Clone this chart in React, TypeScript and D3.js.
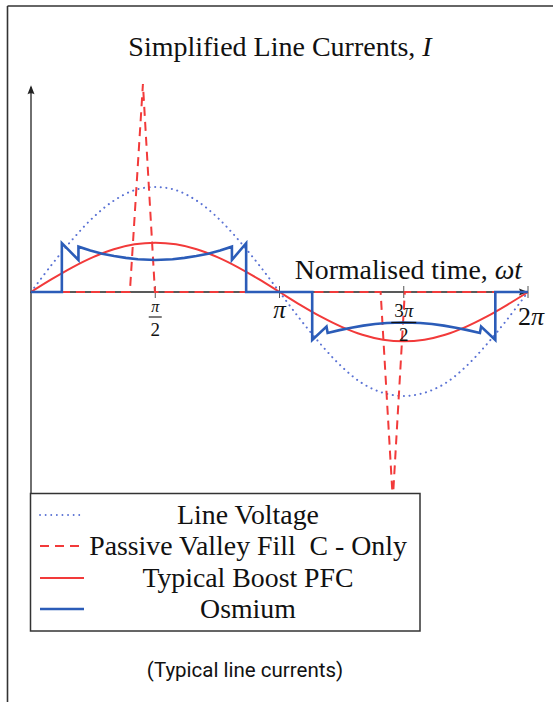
import React from "react";
import * as d3 from "d3";

const PI = Math.PI;

// Sample angles (rad) every pi/12 for the sinusoidal traces
const sampleTheta = d3.range(0, 25).map((i) => (i * PI) / 12);

// Line voltage (normalised)
const lineVoltage = [
  0, 0.26, 0.5, 0.71, 0.87, 0.97, 1.0, 0.97, 0.87, 0.71, 0.5, 0.26, 0,
  -0.26, -0.5, -0.71, -0.87, -0.96, -0.99, -0.96, -0.87, -0.71, -0.5, -0.26, 0,
];

// Typical boost PFC current
const boostPfc = [
  0, 0.122, 0.235, 0.332, 0.407, 0.454, 0.47, 0.454, 0.407, 0.332, 0.235, 0.122, 0,
  -0.122, -0.235, -0.332, -0.407, -0.454, -0.47, -0.454, -0.407, -0.332, -0.235, -0.122, 0,
];

// Passive valley fill (C only) current spikes
const passiveTheta = [0, 1.25, 1.415, 1.567, 4.42, 4.574, 4.726, 6.283];
const passiveValue = [0, 0, 1.98, 0, 0, -1.98, 0, 0];

// Osmium current
const osmiumTheta = [
  0, 0.39, 0.39, 0.6, 0.6, 0.75, 0.9, 1.05, 1.2, 1.35, 1.571, 1.79, 1.94, 2.09, 2.24, 2.39, 2.54, 2.54, 2.72, 2.72,
  3.555, 3.555, 3.736, 3.75, 3.9, 4.05, 4.2, 4.35, 4.5, 4.712, 4.92, 5.07, 5.22, 5.37, 5.52, 5.675, 5.69, 5.87, 5.87, 6.283,
];
const osmiumValue = [
  0, 0, 0.465, 0.305, 0.432, 0.395, 0.365, 0.342, 0.325, 0.312, 0.305, 0.312, 0.325, 0.342, 0.365, 0.395, 0.432, 0.305, 0.465, 0,
  0, -0.457, -0.33, -0.39, -0.363, -0.34, -0.32, -0.305, -0.295, -0.29, -0.295, -0.305, -0.32, -0.34, -0.363, -0.39, -0.33, -0.457, 0, 0,
];

const tickValues = [PI / 2, PI, (3 * PI) / 2, 2 * PI];

const legendLabels = ["Line Voltage", "Passive Valley Fill  C - Only", "Typical Boost PFC", "Osmium"];

const BLUE = "#2b5cb8";
const DOT_BLUE = "#5a72d4";
const RED = "#f23a3a";
const SERIF = "'Liberation Serif', 'Times New Roman', serif";

export default function App() {
  const x = d3.scaleLinear().domain([0, 2 * PI]).range([31, 528]);
  const y = d3.scaleLinear().domain([-1, 1]).range([397, 187]);
  const y0 = y(0);

  const smooth = d3
    .line<[number, number]>()
    .x((d) => x(d[0]))
    .y((d) => y(d[1]))
    .curve(d3.curveCatmullRom);
  const straight = d3
    .line<[number, number]>()
    .x((d) => x(d[0]))
    .y((d) => y(d[1]));

  const voltagePath = smooth(sampleTheta.map((t, i) => [t, lineVoltage[i]]));
  const boostPath = smooth(sampleTheta.map((t, i) => [t, boostPfc[i]]));
  const passivePath = straight(passiveTheta.map((t, i) => [t, passiveValue[i]]));
  const osmiumPath = straight(osmiumTheta.map((t, i) => [t, osmiumValue[i]]));

  const yTop = y(1.97);
  const yBot = y(-1.97);
  const xEnd = x(2 * PI);

  const fontSize = 27.8;

  const lgX0 = 30.5;
  const lgY0 = 493.5;
  const lgW = 389.5;
  const lgH = 137.5;
  const rowY = [515, 546, 578, 609];
  const lgTextX = 248;

  return (
    <svg
      width={553}
      height={702}
      style={{ position: "absolute", left: 0, top: 0, background: "#fff" }}
    >
      {/* frame */}
      <line x1={7.5} y1={6} x2={553} y2={6} stroke="#333" strokeWidth={1.6} />
      <line x1={7.5} y1={6} x2={7.5} y2={702} stroke="#333" strokeWidth={1.6} />

      {/* title */}
      <text x={280} y={56} textAnchor="middle" fontFamily={SERIF} fontSize={28} fill="#111">
        Simplified Line Currents, <tspan fontStyle="italic">I</tspan>
      </text>

      {/* line voltage */}
      <path
        d={voltagePath || ""}
        fill="none"
        stroke={DOT_BLUE}
        strokeWidth={2}
        strokeLinecap="round"
        strokeDasharray="0.1 5.5"
      />

      {/* axes */}
      <line x1={x(0)} y1={yBot} x2={x(0)} y2={yTop + 2} stroke="#222" strokeWidth={1.3} />
      <path
        d={`M${x(0)},${yTop} L${x(0) - 3.5},${yTop + 9} Q${x(0)},${yTop + 7} ${x(0) + 3.5},${yTop + 9} Z`}
        fill="#222"
      />
      <line x1={x(0)} y1={y0} x2={xEnd - 2} y2={y0} stroke="#222" strokeWidth={1.3} />
      <path
        d={`M${xEnd},${y0} L${xEnd - 9},${y0 - 3.5} Q${xEnd - 7},${y0} ${xEnd - 9},${y0 + 3.5} Z`}
        fill="#222"
      />
      {tickValues.map((t, i) => (
        <line key={i} x1={x(t)} y1={y0 - 6} x2={x(t)} y2={y0 + 6} stroke="#555" strokeWidth={1} />
      ))}

      {/* axis label */}
      <text x={522} y={279} textAnchor="end" fontFamily={SERIF} fontSize={fontSize} fill="#111">
        Normalised time, <tspan fontStyle="italic">ωt</tspan>
      </text>

      {/* passive valley fill */}
      <path d={passivePath || ""} fill="none" stroke={RED} strokeWidth={2} strokeDasharray="9 6" />
      {/* boost */}
      <path d={boostPath || ""} fill="none" stroke={RED} strokeWidth={2} />
      {/* osmium */}
      <path d={osmiumPath || ""} fill="none" stroke={BLUE} strokeWidth={2.6} strokeLinejoin="miter" />

      {/* tick labels */}
      <g fontFamily={SERIF} fill="#111">
        <text x={x(PI / 2)} y={312} textAnchor="middle" fontSize={16} fontStyle="italic">π</text>
        <line x1={x(PI / 2) - 6.5} y1={317} x2={x(PI / 2) + 6.5} y2={317} stroke="#111" strokeWidth={1.1} />
        <text x={x(PI / 2)} y={336} textAnchor="middle" fontSize={19}>2</text>

        <text x={x(PI)} y={318} textAnchor="middle" fontSize={25} fontStyle="italic">π</text>

        <text x={x((3 * PI) / 2)} y={317} textAnchor="middle" fontSize={19}>
          3<tspan fontStyle="italic">π</tspan>
        </text>
        <line x1={x((3 * PI) / 2) - 12.5} y1={322.5} x2={x((3 * PI) / 2) + 12.5} y2={322.5} stroke="#111" strokeWidth={1.3} />
        <text x={x((3 * PI) / 2)} y={341} textAnchor="middle" fontSize={19}>2</text>

        <text x={531} y={325} textAnchor="middle" fontSize={26}>
          2<tspan fontStyle="italic">π</tspan>
        </text>
      </g>

      {/* legend */}
      <rect x={lgX0} y={lgY0} width={lgW} height={lgH} fill="#fff" stroke="#333" strokeWidth={1.5} />
      <line x1={40} y1={rowY[0]} x2={84} y2={rowY[0]} stroke={DOT_BLUE} strokeWidth={1.8} strokeLinecap="round" strokeDasharray="0.1 5.5" />
      <line x1={40} y1={rowY[1]} x2={84} y2={rowY[1]} stroke={RED} strokeWidth={2} strokeDasharray="9 6" />
      <line x1={40} y1={rowY[2]} x2={84} y2={rowY[2]} stroke={RED} strokeWidth={2} />
      <line x1={40} y1={rowY[3]} x2={84} y2={rowY[3]} stroke={BLUE} strokeWidth={2.6} />
      {legendLabels.map((l, i) => (
        <text
          key={i}
          x={lgTextX}
          y={rowY[i] + 8.5}
          textAnchor="middle"
          fontFamily={SERIF}
          fontSize={fontSize}
          fill="#111"
          style={{ whiteSpace: "pre" }}
        >
          {l}
        </text>
      ))}

      {/* caption */}
      <text x={245} y={677} textAnchor="middle" fontFamily="Roboto, sans-serif" fontSize={20.5} fill="#111">
        (Typical line currents)
      </text>
    </svg>
  );
}
